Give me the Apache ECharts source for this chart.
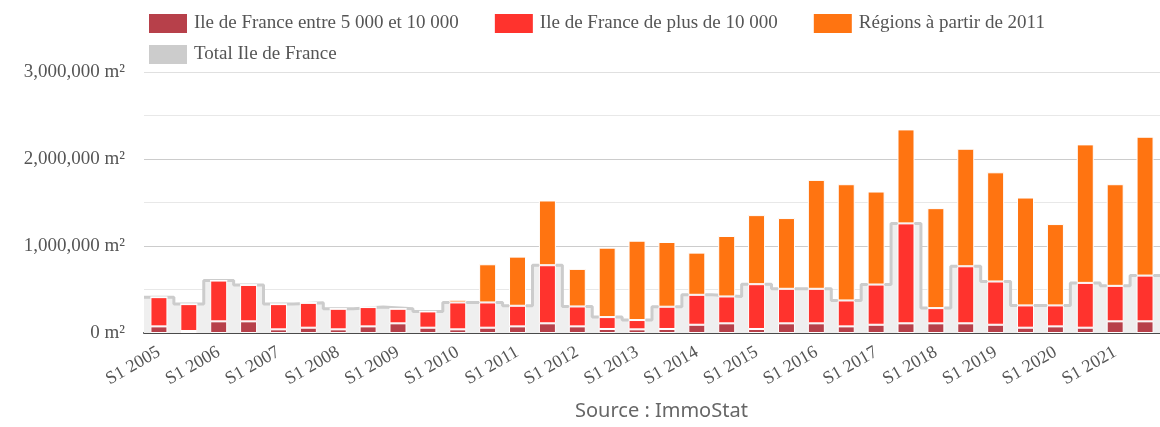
<!DOCTYPE html>
<html>
<head>
<meta charset="utf-8">
<script src="https://cdn.jsdelivr.net/npm/echarts@6/dist/echarts.min.js"></script>
<style>html,body{margin:0;padding:0;background:#fff}#c{width:1160px;height:427px}</style>
</head>
<body>
<div id="c"></div>
<script>
var categories = ['S1 2005','S2 2005','S1 2006','S2 2006','S1 2007','S2 2007','S1 2008','S2 2008','S1 2009','S2 2009',
  'S1 2010','S2 2010','S1 2011','S2 2011','S1 2012','S2 2012','S1 2013','S2 2013','S1 2014','S2 2014',
  'S1 2015','S2 2015','S1 2016','S2 2016','S1 2017','S2 2017','S1 2018','S2 2018','S1 2019','S2 2019',
  'S1 2020','S2 2020','S1 2021','S2 2021'];
var idfSmall = [76000,23000,134000,134000,42000,61000,42000,76000,111000,61000,
  42000,61000,76000,111000,76000,46000,42000,46000,95000,111000,
  46000,111000,111000,76000,95000,111000,111000,111000,95000,61000,
  76000,61000,134000,134000];
var idfLarge = [336000,309000,469000,419000,290000,286000,237000,222000,168000,187000,
  309000,290000,237000,668000,229000,137000,107000,256000,344000,309000,
  515000,397000,397000,298000,462000,1149000,175000,656000,497000,256000,
  241000,515000,408000,526000];
var regions = [0,0,0,0,0,0,0,0,0,0,
  31000,439000,565000,744000,432000,798000,912000,744000,485000,695000,
  794000,813000,1252000,1336000,1069000,1080000,1149000,1351000,1255000,1240000,
  935000,1592000,1168000,1596000];
var totalIdf = [412000,332000,603000,553000,332000,347000,279000,298000,279000,248000,
  351000,351000,313000,779000,305000,183000,149000,302000,439000,420000,
  561000,508000,508000,374000,557000,1260000,286000,767000,592000,317000,
  317000,576000,542000,660000];
var yTicks = [0,1000000,2000000,3000000];

var serif = 'Liberation Serif';
var stepData = totalIdf.map(function(v,i){return [i,v];});
stepData.push([totalIdf.length, totalIdf[totalIdf.length-1]]);

var chart = echarts.init(document.getElementById('c'), null, {renderer:'canvas'});
var barStyle = function(color){return {color:color, borderColor:'#ffffff', borderWidth:1};};
chart.setOption({
  animation:false,
  backgroundColor:'#ffffff',
  grid:{left:144, top:72, width:1021, height:261, containLabel:false},
  legend:[{
    data:['Ile de France entre 5 000 et 10 000','Ile de France de plus de 10 000','Régions à partir de 2011'],
    left:144, top:9, icon:'rect', itemWidth:38, itemHeight:19, itemGap:36,
    itemStyle:{borderWidth:0},
    textStyle:{fontFamily:serif, fontSize:19, color:'#555', padding:[0,0,0,2]}
  },{
    data:['Total Ile de France'],
    left:144, top:40, icon:'rect', itemWidth:38, itemHeight:19,
    itemStyle:{borderWidth:0},
    textStyle:{fontFamily:serif, fontSize:19, color:'#555', padding:[0,0,0,2]}
  }],
  xAxis:[{
    type:'category', data:categories, boundaryGap:true,
    axisTick:{show:false},
    axisLine:{lineStyle:{color:'#4a4a4a', width:2}},
    axisLabel:{interval:1, rotate:30, margin:18, fontFamily:serif, fontSize:18, color:'#555'},
    splitLine:{show:false}
  },{
    type:'value', min:0, max:categories.length, show:false
  }],
  yAxis:{
    type:'value', min:0, max:3000000, interval:500000,
    axisLine:{show:false}, axisTick:{show:false},
    axisLabel:{margin:19, fontFamily:serif, fontSize:19, color:'#555',
      formatter:function(v){ return yTicks.indexOf(v) >= 0 ? v.toLocaleString('en-US') + ' m²' : ''; }},
    splitLine:{lineStyle:{color:['#cccccc','#e8e8e8','#cccccc','#e8e8e8','#cccccc','#e8e8e8','#e0e0e0'], width:1}}
  },
  graphic:[{
    type:'text', left:575, top:401,
    style:{text:'Source : ImmoStat', font:'20px "Noto Sans"', fill:'#666'}
  }],
  series:[
    {name:'Total Ile de France', type:'line', xAxisIndex:1, step:'end', data:stepData,
      showSymbol:false, symbol:'none', z:1,
      itemStyle:{color:'#cccccc'},
      lineStyle:{color:'#cccccc', width:3},
      areaStyle:{color:'#efefef', opacity:1}},
    {name:'Ile de France entre 5 000 et 10 000', type:'bar', stack:'s', barWidth:17, z:2,
      data:idfSmall, itemStyle:barStyle('#b7404a')},
    {name:'Ile de France de plus de 10 000', type:'bar', stack:'s', barWidth:17, z:2,
      data:idfLarge, itemStyle:barStyle('#ff332d')},
    {name:'Régions à partir de 2011', type:'bar', stack:'s', barWidth:17, z:2,
      data:regions, itemStyle:barStyle('#ff7411')}
  ]
});
</script>
</body>
</html>
